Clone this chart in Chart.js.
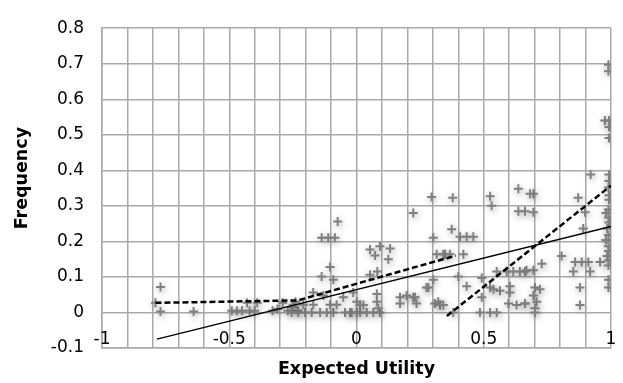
<!DOCTYPE html>
<html>
<head>
<meta charset="utf-8">
<script src="https://cdn.jsdelivr.net/npm/chart.js@4/dist/chart.umd.min.js"></script>
<style>
  html, body { margin: 0; padding: 0; background: #ffffff; }
  #wrap { position: relative; width: 623px; height: 383px; }
</style>
</head>
<body>
<div id="wrap"><canvas id="c"></canvas></div>
<script>
// ---- data ----
const obsX = [
  -0.79, -0.77, -0.77, -0.64,
  -0.49, -0.47, -0.45, -0.43, -0.42, -0.40, -0.39,
  -0.33, -0.31, -0.29, -0.27, -0.25, -0.23, -0.24,
  -0.255, -0.229, -0.202, -0.176, -0.143, -0.117, -0.091, -0.045, -0.025, -0.019, 0.001, 0.014, 0.04, 0.066, 0.092,
  -0.248, -0.209, -0.17, -0.104, -0.078, 0.014,
  -0.17, -0.13, -0.052, -0.013, 0.001, 0.027, 0.08, 0.08, 0.086,
  0.171, 0.197, 0.223, 0.171,
  -0.074, -0.137, -0.111, -0.085, -0.104, -0.137, -0.091,
  0.053, 0.092, 0.132, 0.073, 0.125, 0.082, 0.053,
  0.223, 0.295, 0.302, 0.315, 0.348, 0.302, 0.282, 0.308, 0.328,
  0.378, 0.525, 0.531, 0.636, 0.636, 0.662, 0.23, 0.236,
  0.374, 0.407, 0.433, 0.459, 0.341, 0.367, 0.42,
  0.275, 0.40, 0.433, 0.492, 0.525, 0.551, 0.59, 0.616, 0.642, 0.662,
  0.603, 0.603, 0.564, 0.538, 0.492, 0.321, 0.341, 0.38, 0.485, 0.525, 0.551, 0.597, 0.629, 0.662,
  0.695, 0.682, 0.871, 0.695, 0.898, 0.891, 0.806, 0.728, 0.695, 0.668,
  0.859, 0.885, 0.911, 0.852, 0.918, 0.957, 0.878, 0.878,
  0.701, 0.721, 0.695, 0.708, 0.662, 0.701, 0.701,
  0.92,
  0.99, 0.99, 0.976, 0.992, 0.992, 0.992, 0.992, 0.992, 0.99, 0.992, 0.992, 0.99, 0.98,
  0.99, 0.992, 0.985, 0.99, 0.98, 0.99, 0.99, 0.985, 0.99, 0.99, 0.99, 0.99
];
const obsY = [
  0.027, 0.072, 0.003, 0.003,
  0.005, 0.005, 0.005, 0.027, 0.005, 0.005, 0.027,
  0.005, 0.01, 0.027, 0.005, 0.015, 0.005, 0.03,
  0.0, 0.0, 0.0, 0.0, 0.0, 0.0, 0.0, 0.0, 0.0, 0.0, 0.0, 0.0, 0.0, 0.0, 0.0,
  0.022, 0.022, 0.022, 0.022, 0.022, 0.022,
  0.056, 0.048, 0.043, 0.056, 0.03, 0.021, 0.052, 0.03, 0.012,
  0.043, 0.048, 0.043, 0.025,
  0.256, 0.21, 0.21, 0.21, 0.128, 0.101, 0.092,
  0.177, 0.186, 0.18, 0.16, 0.15, 0.115, 0.106,
  0.28, 0.325, 0.21, 0.164, 0.164, 0.092, 0.07, 0.025, 0.021,
  0.323, 0.327, 0.30, 0.348, 0.285, 0.285, 0.043, 0.025,
  0.234, 0.213, 0.213, 0.213, 0.164, 0.164, 0.164,
  0.07, 0.101, 0.074, 0.097, 0.07, 0.115, 0.115, 0.115, 0.115, 0.115,
  0.074, 0.056, 0.061, 0.065, 0.043, 0.03, 0.021, 0.0, 0.0, 0.0, 0.0, 0.025, 0.021, 0.025,
  0.334, 0.334, 0.323, 0.282, 0.282, 0.236, 0.159, 0.137, 0.119, 0.119,
  0.142, 0.142, 0.142, 0.115, 0.115, 0.142, 0.07, 0.021,
  0.07, 0.065, 0.048, 0.03, 0.025, 0.012, 0.0,
  0.388,
  0.697, 0.679, 0.54, 0.54, 0.522, 0.491, 0.388, 0.37, 0.352, 0.33, 0.317, 0.29, 0.28,
  0.267, 0.253, 0.236, 0.218, 0.204, 0.186, 0.173, 0.159, 0.146, 0.132, 0.092, 0.07
];
const trendX = [-0.784, 1.0];
const trendY = [-0.075, 0.242];
const dashLowX = [-0.79, -0.23, 0.39];
const dashLowY = [0.027, 0.034, 0.16];
const dashHighX = [0.355, 1.0];
const dashHighY = [-0.01, 0.357];
const xTickValues = [-1, -0.5, 0, 0.5, 1];
const xTickLabels = ['-1', '-0.5', '0', '0.5', '1'];
const yTickLabels = ['-0.1', '0', '0.1', '0.2', '0.3', '0.4', '0.5', '0.6', '0.7', '0.8'];
const xTitle = 'Expected Utility';
const yTitle = 'Frequency';

const toPts = (xs, ys) => xs.map((x, i) => ({ x: x, y: ys[i] }));

const FONT = "'DejaVu Sans', sans-serif";

const shadowPlugin = {
  id: 'shadowPlugin',
  beforeDatasetDraw(chart, args) {
    if (args.index === 0) {
      const ctx = chart.ctx;
      ctx.save();
      ctx.shadowColor = 'rgba(0,0,0,0.35)';
      ctx.shadowBlur = 7;
      ctx.shadowOffsetX = 1;
      ctx.shadowOffsetY = 2;
    }
  },
  afterDatasetDraw(chart, args) {
    if (args.index === 0) chart.ctx.restore();
  }
};

const textPlugin = {
  id: 'textPlugin',
  afterDraw(chart) {
    const ctx = chart.ctx;
    const xs = chart.scales.x, ys = chart.scales.y;
    const base = ys.getPixelForValue(0) + 32;
    ctx.save();
    ctx.font = "17px " + FONT;
    ctx.fillStyle = '#000000';
    ctx.textAlign = 'center';
    ctx.textBaseline = 'alphabetic';
    xTickValues.forEach((v, i) => {
      ctx.fillText(xTickLabels[i], xs.getPixelForValue(v), base);
    });
    ctx.restore();
    // vertical axis title
    ctx.save();
    ctx.font = "bold 17.5px " + FONT;
    ctx.fillStyle = '#000000';
    ctx.textAlign = 'center';
    ctx.textBaseline = 'middle';
    ctx.translate(22.5, (chart.chartArea.top + chart.chartArea.bottom) / 2 - 10);
    ctx.rotate(-Math.PI / 2);
    ctx.fillText(yTitle, 0, 0);
    ctx.restore();
  }
};

new Chart(document.getElementById('c'), {
  type: 'scatter',
  data: {
    datasets: [
      {
        label: 'Observed',
        data: toPts(obsX, obsY),
        pointStyle: 'cross',
        pointRadius: 4.5,
        pointBorderWidth: 2,
        borderColor: '#808080',
        backgroundColor: '#808080',
        showLine: false,
        order: 3
      },
      {
        label: 'Linear',
        data: toPts(trendX, trendY),
        showLine: true,
        borderColor: '#000000',
        borderWidth: 1.5,
        pointRadius: 0,
        fill: false,
        order: 1
      },
      {
        label: 'Piecewise low',
        data: toPts(dashLowX, dashLowY),
        showLine: true,
        borderColor: '#000000',
        borderWidth: 2.5,
        borderDash: [6, 3],
        pointRadius: 0,
        fill: false,
        order: 0
      },
      {
        label: 'Piecewise high',
        data: toPts(dashHighX, dashHighY),
        showLine: true,
        borderColor: '#000000',
        borderWidth: 2.5,
        borderDash: [6, 3],
        pointRadius: 0,
        fill: false,
        order: 0
      }
    ]
  },
  options: {
    responsive: true,
    maintainAspectRatio: false,
    animation: false,
    layout: { padding: { left: 0, right: 12, top: 13, bottom: 0 } },
    plugins: {
      legend: { display: false },
      tooltip: { enabled: false }
    },
    scales: {
      x: {
        type: 'linear',
        position: 'bottom',
        min: -1,
        max: 1,
        ticks: { stepSize: 0.1, display: false },
        grid: { color: '#a9a9a9', lineWidth: 1.5, drawTicks: false },
        border: { display: true, color: '#a9a9a9', width: 1.5 },
        title: {
          display: true,
          text: xTitle,
          color: '#000000',
          font: { family: FONT, size: 17.5, weight: 'bold' },
          padding: { top: 0, bottom: 3 }
        },
        afterFit(scale) { scale.height = 35; }
      },
      y: {
        type: 'linear',
        min: -0.1,
        max: 0.8,
        ticks: {
          stepSize: 0.1,
          color: '#000000',
          padding: 18,
          font: { family: FONT, size: 17 },
          callback: (v) => {
            const idx = Math.round((v + 0.1) * 10);
            return yTickLabels[idx] !== undefined ? yTickLabels[idx] : '';
          }
        },
        grid: { color: '#a9a9a9', lineWidth: 1.5, drawTicks: false },
        border: { display: true, color: '#a9a9a9', width: 1.5 },
        title: { display: false },
        afterFit(scale) { scale.width = 102; }
      }
    }
  },
  plugins: [shadowPlugin, textPlugin]
});
</script>
</body>
</html>
